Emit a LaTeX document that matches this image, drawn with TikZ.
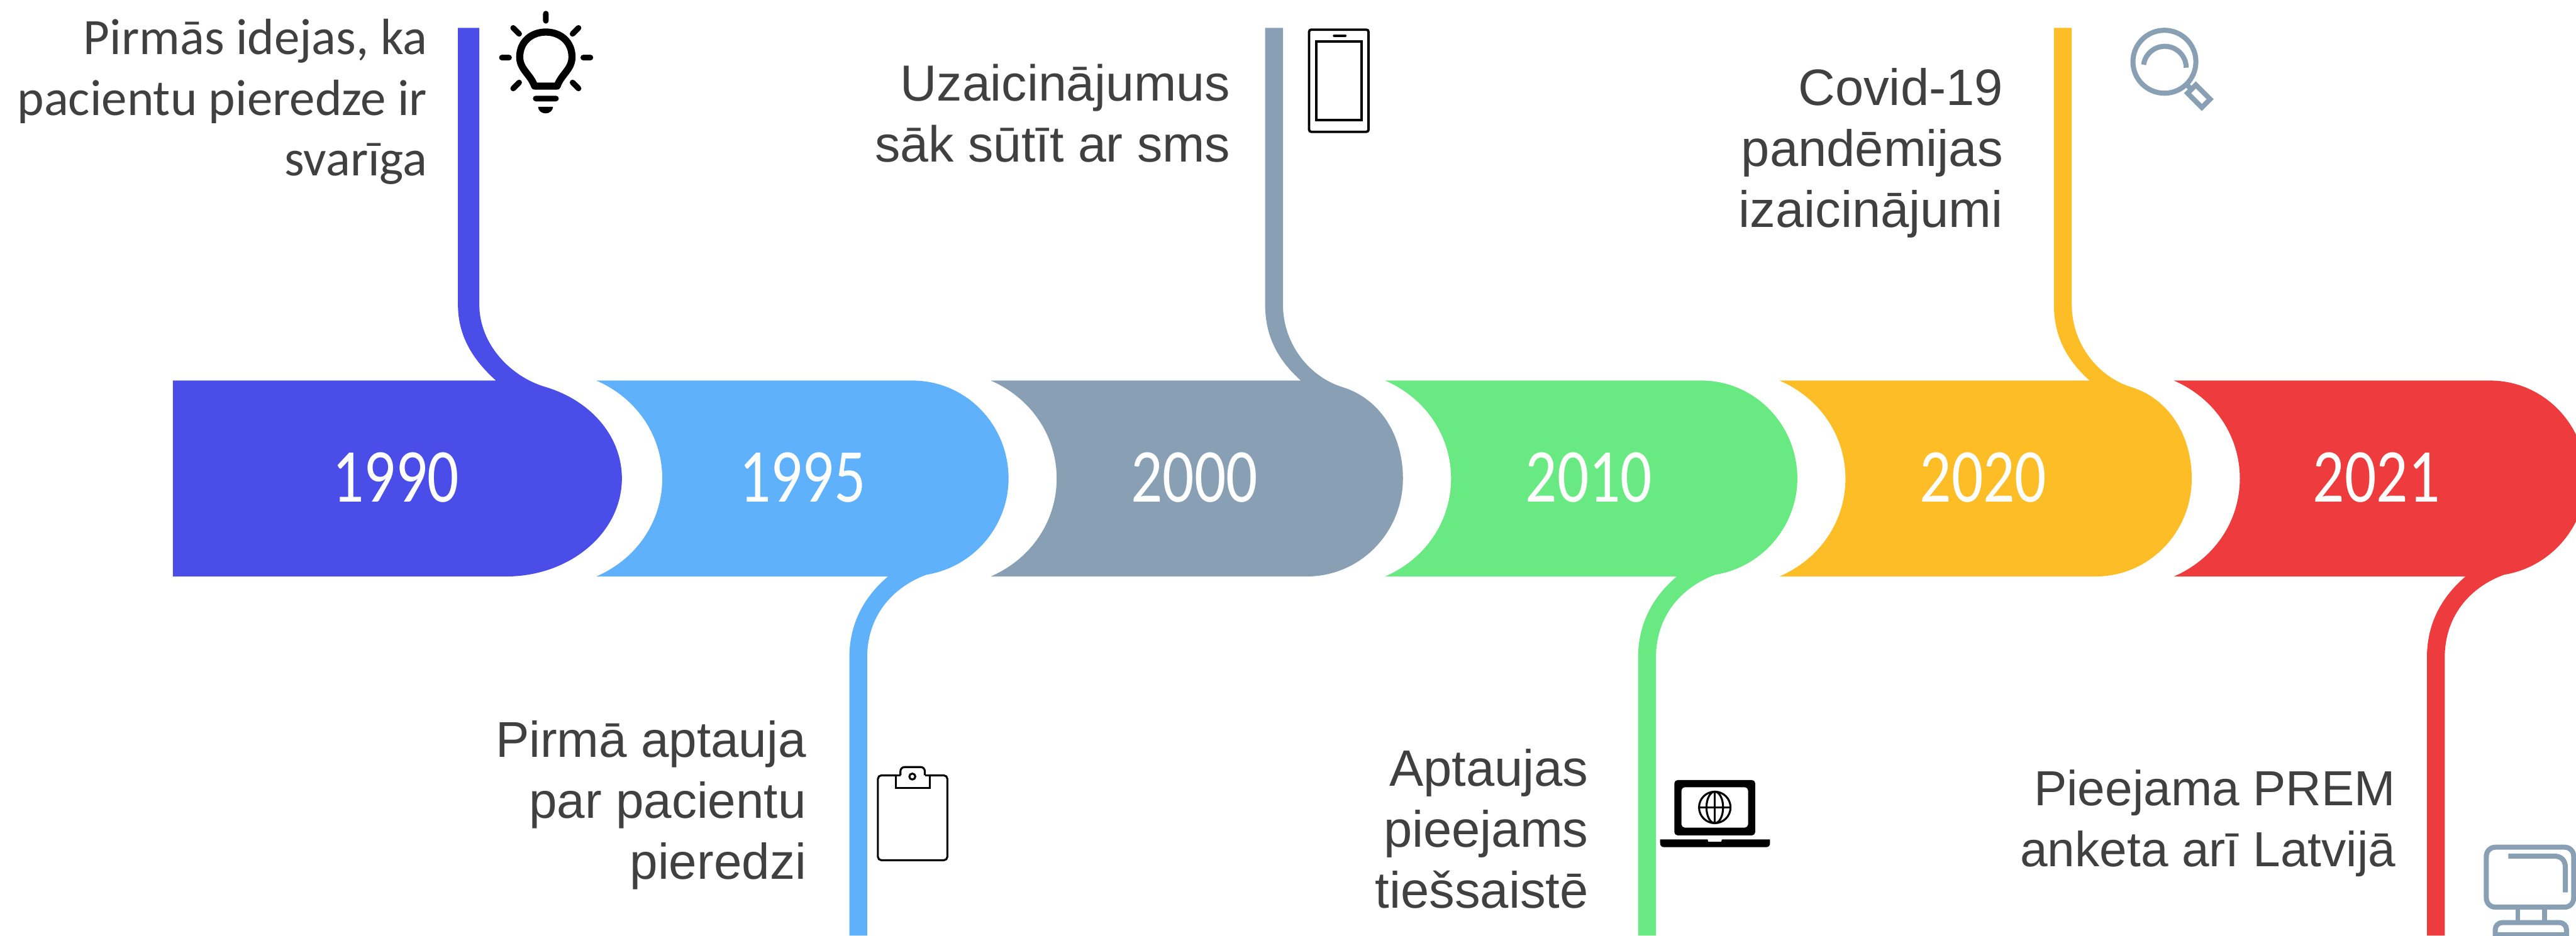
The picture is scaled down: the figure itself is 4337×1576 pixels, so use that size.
\documentclass[tikz,border=0pt]{standalone}
\usepackage{fontspec}
\setmainfont{Liberation Sans}
\newfontfamily\calfont{Carlito}
\newfontfamily\yearfont[FakeStretch=0.82]{Carlito}
\definecolor{cA}{HTML}{4A4DE8}
\definecolor{cB}{HTML}{5FB1FB}
\definecolor{cC}{HTML}{889FB4}
\definecolor{cD}{HTML}{69E981}
\definecolor{cE}{HTML}{FDBD26}
\definecolor{cF}{HTML}{EE3B3D}
\definecolor{txt}{HTML}{404040}
% one period is 664 units; bands are described at offset #1 from band 2
\newcommand{\lowband}[3]{% offset, colour
  \begin{scope}[xshift=#1*0.01cm]
  \fill[#2] (1004,641) -- (1536,641) .. controls (1626,641) and (1698,715) .. (1698,806)
    .. controls (1698,885) and (1640,955) .. (1560,968)
    .. controls (1500,990) and (1460,1040) .. (1460,1107) -- (1460,1576) -- (1430,1576) -- (1430,1107)
    .. controls (1430,1050) and (1455,1005) .. (1495,971) -- (1004,971)
    .. controls (1075,940) and (1115,875) .. (1115,806)
    .. controls (1115,737) and (1075,672) .. (1004,641) -- cycle;
  \end{scope}}
\newcommand{\highband}[3]{% offset, colour
  \begin{scope}[xshift=#1*0.01cm]
  \fill[#2] (1668,641) -- (2190,641) .. controls (2150,605) and (2130,565) .. (2130,513) -- (2130,47) -- (2160,47) -- (2160,513)
    .. controls (2160,580) and (2205,635) .. (2260,652)
    .. controls (2325,672) and (2362,735) .. (2362,806)
    .. controls (2362,897) and (2290,971) .. (2200,971) -- (1668,971)
    .. controls (1739,940) and (1779,875) .. (1779,806)
    .. controls (1779,737) and (1739,672) .. (1668,641) -- cycle;
  \end{scope}}
\tikzset{
  year/.style={text=white,font=\yearfont\fontsize{36.5}{36}\selectfont,anchor=base,inner sep=0pt},
  lab/.style={text=txt,font=\fontsize{#1}{29.3}\selectfont,align=right,anchor=base east,inner sep=0pt},
  calab/.style={text=txt,font=\calfont\fontsize{24.4}{29}\selectfont,align=right,anchor=base east,inner sep=0pt},
  ink/.style={draw=black,line width=3.3*0.2845pt,fill=none},
  inkb/.style={draw=black,line width=12*0.2845pt,fill=none},
  inkr/.style={draw=black,line width=9.5*0.2845pt,line cap=round,fill=none},
  inkc/.style={draw=cC,line width=8.5*0.2845pt,fill=none}
}
\begin{document}
\begin{tikzpicture}[x=0.01cm,y=-0.01cm]
\useasboundingbox (0,0) rectangle (4337,1576);
\begin{scope}
\clip (0,0) rectangle (4337,1576);
% band 1
\fill[cA] (291,641) -- (835,641) .. controls (795,605) and (771,565) .. (771,513) -- (771,47) -- (807,47) -- (807,513)
  .. controls (807,580) and (860,635) .. (919,652)
  .. controls (995,675) and (1047,735) .. (1047,806)
  .. controls (1047,897) and (960,971) .. (852,971) -- (291,971) -- cycle;
\lowband{0}{cB}{}
\highband{0}{cC}{}
\lowband{1328}{cD}{}
\highband{1328}{cE}{}
\lowband{2656}{cF}{}
% computer
\draw[inkc,rounded corners=4.3pt] (4186,1427) rectangle (4333,1528);
\draw[inkc] (4223,1442) -- (4300,1442) .. controls (4312,1442) and (4319,1449) .. (4319,1461) -- (4319,1503);
\draw[cC,line width=7*0.2845pt] (4239,1532) -- (4239,1551);
\draw[inkc] (4284,1532) -- (4284,1551);
\draw[inkc,rounded corners=3.4pt] (4201,1585) -- (4201,1554) -- (4321,1554) -- (4321,1585);
\draw[inkc] (4201,1575) -- (4321,1575);
\end{scope}
% years
\node[year] (y1) at (666,845) {1990};
\node[year] (y2) at (1351,845) {1995};
\node[year] (y3) at (2011,845) {2000};
\node[year] (y4) at (2675,845) {2010};
\node[year] (y5) at (3339,845) {2020};
\node[year] (y6) at (4001,845) {2021};
% labels
\node[calab] (t1) at (720,296) {Pirmās idejas, ka\\pacientu pieredze ir\\svarīga};
\node[lab=24.1] (t2) at (1358,1481) {Pirmā aptauja\\par pacientu\\pieredzi};
\node[lab=24.3] (t3) at (2072,273) {Uzaicinājumus\\sāk sūtīt ar sms};
\node[lab=24.5] (t4) at (2675,1530) {Aptaujas\\pieejams\\tiešsaistē};
\node[lab=24.5] (t5) at (3373,383) {Covid-19\\pandēmijas\\izaicinājumi};
\node[lab=23.6] (t6) at (4034,1460) {Pieejama PREM\\anketa arī Latvijā};
% bulb
\draw[inkb,line join=round] (900,145) .. controls (893,125) and (875,117) .. (875,96) .. controls (875,70) and (895,54) .. (919,54) .. controls (943,54) and (963,70) .. (963,96) .. controls (963,117) and (945,125) .. (938,145) -- cycle;
\draw[inkr] (919,23) -- (919,35) (845,97) -- (857,97) (982,97) -- (994,97) (864,47) -- (874,57) (974,47) -- (964,57) (864,149) -- (874,139) (974,149) -- (964,139) (902,166) -- (936,166);
\fill (906,180) -- (931,180) arc[start angle=0,end angle=180,x radius=12.5,y radius=11] -- cycle;
% phone
\draw[ink,line width=4*0.2845pt,rounded corners=1pt] (2204,50) rectangle (2304,222);
\draw[ink,line width=4*0.2845pt] (2216,70) rectangle (2292,202);
\draw[black,line width=4*0.2845pt,line cap=round] (2246,60) -- (2265,60);
% magnifier
\draw[inkc] (3644,104) circle[radius=53];
\draw[inkc] (3609,109) arc[start angle=188,end angle=360,radius=36];
\draw[inkc] (3697,143) -- (3721,167) -- (3707,181) -- (3683,157) -- cycle;
\draw[cC,line width=8.5*0.2845pt] (3682,143) -- (3688,149);
% clipboard
\draw[ink,rounded corners=1.7pt] (1509,1306) -- (1478,1306) -- (1478,1449) -- (1595,1449) -- (1595,1306) -- (1565,1306);
\draw[ink] (1508,1306) -- (1508,1327) -- (1565,1327) -- (1565,1306) -- (1558,1306);
\draw[ink] (1508,1306) -- (1516,1306);
\draw[ink,rounded corners=2pt] (1516,1306) -- (1516,1292) -- (1557,1292) -- (1557,1306);
\draw[ink] (1536,1308) circle[radius=5];
% laptop
\fill[even odd rule,rounded corners=1.5pt] (2819,1407) -- (2819,1314) -- (2955,1314) -- (2955,1407) -- cycle (2831,1326) rectangle (2943,1394);
\draw[ink] (2887,1360) circle[radius=26.5];
\draw[ink] (2887,1333.5) -- (2887,1386.5) (2860.5,1360) -- (2913.5,1360);
\draw[ink] (2887,1360) ellipse[x radius=14,y radius=26.5];
\fill (2795,1414) -- (2875,1414) -- (2876,1418) -- (2898,1418) -- (2899,1414) -- (2980,1414) -- (2980,1420) .. controls (2980,1425) and (2977,1427) .. (2973,1427) -- (2802,1427) .. controls (2798,1427) and (2795,1425) .. (2795,1420) -- cycle;
\end{tikzpicture}
\end{document}
